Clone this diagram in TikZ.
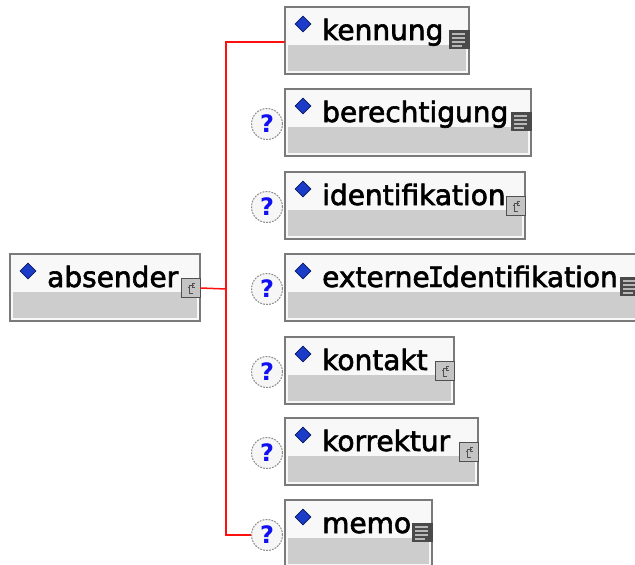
\documentclass[tikz,border=0pt]{standalone}
\usepackage{fontspec}
\newfontfamily\lblfont{DejaVu Sans}[BoldFont={DejaVu Sans}, BoldFeatures={FakeBold=2.2}]
\newfontfamily\ifont{DejaVu Sans Mono}[BoldFont={DejaVu Sans Mono}, BoldFeatures={FakeBold=1.5}]
\newfontfamily\qfont{DejaVu Sans}
\usetikzlibrary{shapes.geometric}
\definecolor{boxtop}{HTML}{F8F8F8}
\definecolor{bandgray}{HTML}{CDCDCD}
\definecolor{boxborder}{HTML}{7A7A7A}
\definecolor{diamblue}{HTML}{1A3CC8}
\definecolor{diamdark}{HTML}{0A1A60}
\definecolor{qgray}{HTML}{8A8A8A}
\definecolor{qfill}{HTML}{F6F6F6}
\definecolor{qblue}{HTML}{1010F0}
\definecolor{icongray}{HTML}{C4C4C4}
\definecolor{icondark}{HTML}{505050}
\definecolor{sdark}{HTML}{4A4A4A}
\definecolor{slight}{HTML}{B8B8B8}
\definecolor{connred}{HTML}{FF1010}
\tikzset{
  elbox/.style={rectangle, draw=boxborder, line width=1.5pt, fill=boxtop, inner sep=0pt, outer sep=0pt},
  diam/.style={diamond, fill=diamblue, draw=diamdark, line width=0.6pt, minimum size=16pt, inner sep=0pt},
  lbl/.style={font=\lblfont\bfseries\fontsize{28}{30}\selectfont, inner sep=0pt, text=black},
  qcirc/.style={circle, draw=qgray, dash pattern=on 1.8pt off 1.2pt, line width=1pt, fill=qfill, minimum size=31pt, inner sep=0pt, font=\qfont\bfseries\fontsize{24}{24}\selectfont, text=qblue},
  cicon/.style={rectangle, fill=icongray, draw=icondark, line width=1pt, minimum width=19pt, minimum height=19pt, inner sep=0pt},
  sicon/.style={rectangle, fill=sdark, minimum width=21pt, minimum height=19pt, inner sep=0pt},
  cglyph/.style={draw=icondark, line width=1pt},
  sglyph/.style={draw=slight, line width=1.6pt},
  conn/.style={draw=connred, line width=1.5pt},
}
\newcommand\serifI{\kern-0.08em{\ifont\bfseries I}\kern-0.08em}
% #1 name, #2 left, #3 top, #4 right, #5 label, #6 icon kind (c or s)
\newcommand\xelem[6]{%
  \node[elbox, anchor=north west, minimum width={(#4-#2)*1pt}, minimum height=67pt] (#1) at (#2,#3) {};
  \fill[bandgray] (#2+3,#3+38) rectangle (#4-3,#3+64);
  \node[diam] (#1-d) at (#2+18,#3+17) {};
  \node[lbl, anchor=base west] (#1-t) at (#2+37,#3+33) {#5};
  \ifx c#6
    \node[cicon, anchor=north east] (#1-ic) at (#4+0.5,#3+24) {};
    \begin{scope}[shift={(#1-ic.center)}]
      \draw[cglyph] (3,-3) -- (-1,-3) -- (-1,5) -- (2,5);
      \draw[cglyph] (-3,-1) -- (-1,-1);
      \draw[cglyph] (4,-5) -- (2,-5) -- (2,-1) -- (4,-1);
    \end{scope}
  \else
    \node[sicon, anchor=north east] (#1-ic) at (#4+1,#3+23) {};
    \begin{scope}[shift={(#1-ic.center)}]
      \draw[sglyph] (-7,-6) -- (6,-6);
      \draw[sglyph] (-7,-2) -- (6,-2);
      \draw[sglyph] (-7,2) -- (6,2);
      \draw[sglyph] (-7,6) -- (3,6);
    \end{scope}
  \fi
}
\newcommand\qmark[2]{\node[qcirc] (#1-q) at (267,#2+35) {?};}
\begin{document}
\begin{tikzpicture}[x=1pt,y=-1pt]
  \useasboundingbox (0,0) rectangle (635,565);
  \clip (0,0) rectangle (635,565);
  \fill[white] (0,0) rectangle (635,565);
  \coordinate (bus) at (226,289);
  \xelem{absender}{10}{254}{200}{absender}{c}
  \xelem{kennung}{285}{7}{469}{kennung}{s}
  \xelem{berechtigung}{285}{89}{531}{berechtigung}{s}
  \xelem{identifikation}{285}{172}{525}{identifikation}{c}
  \xelem{externe}{285}{254}{640}{externe\serifI dentifikation}{s}
  \xelem{kontakt}{285}{337}{454}{kontakt}{c}
  \xelem{korrektur}{285}{418}{478}{korrektur}{c}
  \xelem{memo}{285}{500}{432}{memo}{s}
  \qmark{berechtigung}{89}
  \qmark{identifikation}{172}
  \qmark{externe}{254}
  \qmark{kontakt}{337}
  \qmark{korrektur}{418}
  \qmark{memo}{500}
  \draw[conn] (absender-ic.east) -- (bus);
  \draw[conn] ([yshift=-1.5pt]kennung.west) -| (bus) |- (memo-q.west);
\end{tikzpicture}
\end{document}
